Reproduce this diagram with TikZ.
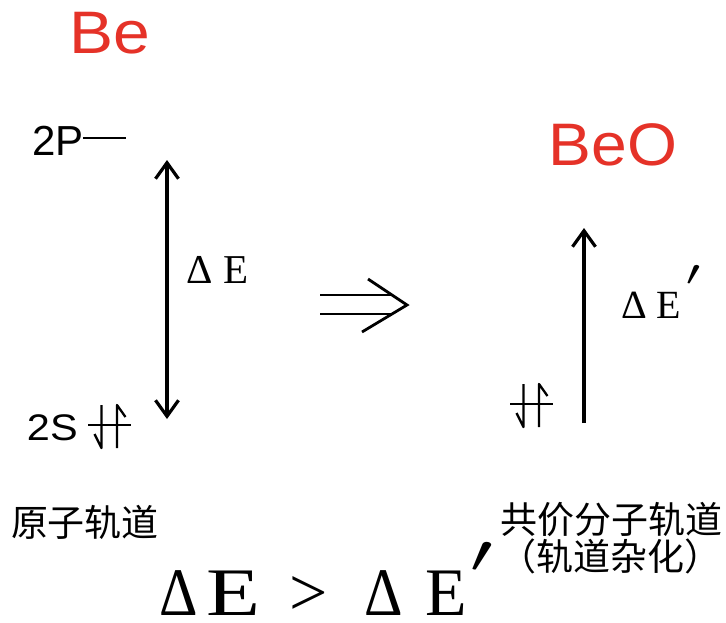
\RequirePackage{fix-cm}
\documentclass[tikz,border=0pt]{standalone}
\usepackage{fontspec}
\setmainfont{Liberation Serif}
\newfontfamily\sansf{Liberation Sans}
\newfontfamily\cjk{Noto Sans CJK SC}
\usetikzlibrary{arrows.meta}
\definecolor{bered}{RGB}{229,50,40}
\newcommand{\fsz}[1]{\fontsize{#1}{#1}\selectfont}
\tikzset{
  elem/.style={font=\sansf\fsz{60}, text=bered, anchor=base},
  lvl/.style={font=\sansf\fsz{42}, anchor=base west},
  delta/.style={font=\fsz{41}, anchor=base},
  cn/.style={font=\cjk\fsz{37}, anchor=base},
  barb/.tip={Straight Barb[length=16pt,width=23pt]},
  arr/.style={line width=3.2pt, -barb},
  dblarr/.style={line width=3.2pt, barb-barb},
  orb/.style={line width=2.3pt},
  implies/.style={line width=2.8pt},
  pics/epair/.style={code={
    \draw[orb] (-21.5,0) -- (21.5,0);
    \draw[orb,line join=round] (-15,9) -- (-8,23) -- (-8,-20);
    \draw[orb,line join=round] (7.5,23) -- (7.5,-20) -- (16,-8);
  }}
}
\begin{document}
\begin{tikzpicture}[x=1pt,y=-1pt, every node/.style={inner sep=0pt, outer sep=0pt}]
\useasboundingbox (0,0) rectangle (726,622);
% titles
\node[elem] (be) at (110,53) {\scalebox{1.1}[1]{Be}};
\node[elem] (beo) at (613,165) {\scalebox{1.07}[1]{BeO}};
% levels
\node[lvl] (p2) at (32,155) {2P};
\coordinate (p2end) at (126,138);
\draw[orb] (p2.east |- p2end) -- (p2end);
\node[lvl, font=\sansf\fsz{37}] (s2) at (27,440) {\scalebox{1.12}[1]{2S}};
\pic at (109.5,425) {epair};
\pic at (531.5,404) {epair};
% left double arrow
\coordinate (pTop) at (167,160);
\coordinate (pBot) at (167,419);
\draw[dblarr] (pBot) -- (pTop);
\node[delta] (dE) at (217.5,283) {Δ E};
% implies arrow
\coordinate (i1) at (320,295);
\coordinate (i2) at (392,295);
\coordinate (i3) at (320,314);
\coordinate (i4) at (392,314);
\coordinate (h1) at (368,279);
\coordinate (h2) at (407,305);
\coordinate (h3) at (362,332);
\draw[implies] (i1) -- (i2);
\draw[implies] (i3) -- (i4);
\draw[implies] (h1) -- (h2) -- (h3);
% right arrow
\coordinate (qBot) at (584,423);
\coordinate (qTop) at (584,228);
\draw[arr] (qBot) -- (qTop);
\node[anchor=base west, font=\fsz{40}] (dE2) at (621,318) {Δ E\hspace{5pt}\raisebox{33pt}{\fsz{36}\scalebox{1.4}[1]{$\prime$}}};
% captions
\node[cn] (ao) at (85,536) {原子轨道};
\node[cn] (mo) at (611,533) {共价分子轨道};
\node[cn] (hy) at (610,570) {（轨道杂化）};
% comparison
\node[anchor=base west, font=\fsz{68}, text depth=0pt] (cmp) at (159.5,615) {\scalebox{0.88}[1]{Δ}\hspace{9pt}\scalebox{1.3}[1]{E}\hspace{29pt}>\hspace{36pt}\scalebox{0.88}[1]{Δ}\hspace{23pt}E\hspace{3pt}\raisebox{43pt}{\fsz{54}\scalebox{1.5}[1]{$\prime$}}};
\end{tikzpicture}
\end{document}
